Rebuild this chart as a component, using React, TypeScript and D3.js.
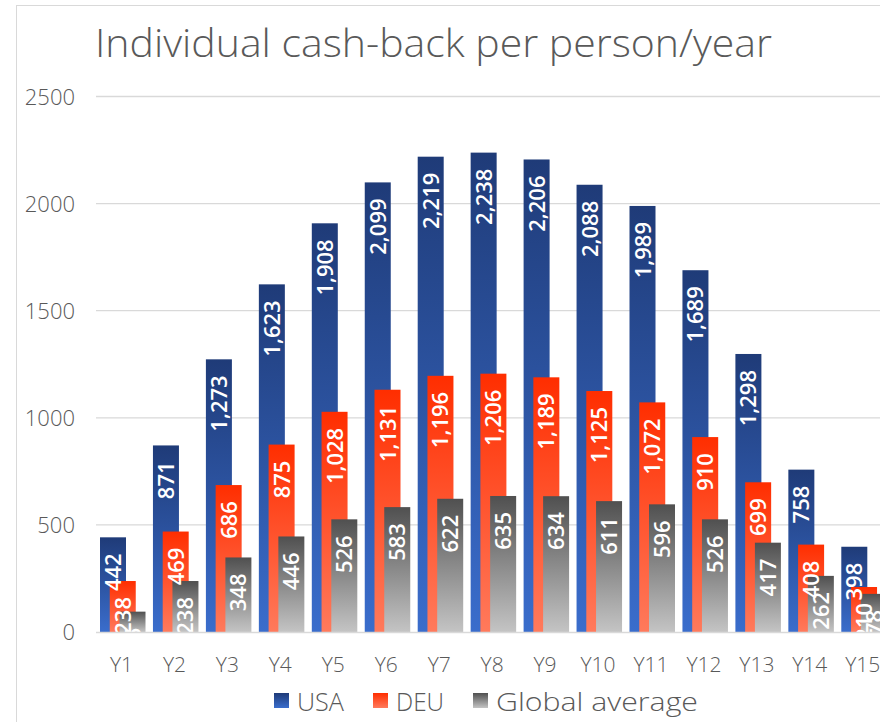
import React, { useEffect, useRef } from 'react';
import * as d3 from 'd3';

const years = ['Y1', 'Y2', 'Y3', 'Y4', 'Y5', 'Y6', 'Y7', 'Y8', 'Y9', 'Y10', 'Y11', 'Y12', 'Y13', 'Y14', 'Y15'];
const usa = [442, 871, 1273, 1623, 1908, 2099, 2219, 2238, 2206, 2088, 1989, 1689, 1298, 758, 398];
const deu = [238, 469, 686, 875, 1028, 1131, 1196, 1206, 1189, 1125, 1072, 910, 699, 408, 210];
const globalAvg = [95, 238, 348, 446, 526, 583, 622, 635, 634, 611, 596, 526, 417, 262, 178];
const seriesNames = ['USA', 'DEU', 'Global average'];
const yTicks = [0, 500, 1000, 1500, 2000, 2500];

const W = 880, H = 722;
const font = "'Open Sans', 'Lato', sans-serif";

const grads = [
  { id: 'gUsa', top: '#1f3b78', bottom: '#3a6dcc' },
  { id: 'gDeu', top: '#ff2e00', bottom: '#ff7a5c' },
  { id: 'gGlb', top: '#505050', bottom: '#c4c4c4' },
];

export default function App() {
  const ref = useRef<SVGSVGElement>(null);

  useEffect(() => {
    document.body.style.margin = '0';
    const svg = d3.select(ref.current);
    svg.selectAll('*').remove();

    const defs = svg.append('defs');
    grads.forEach(g => {
      const lg = defs.append('linearGradient').attr('id', g.id)
        .attr('x1', 0).attr('y1', 0).attr('x2', 0).attr('y2', 1);
      lg.append('stop').attr('offset', '0%').attr('stop-color', g.top);
      lg.append('stop').attr('offset', '100%').attr('stop-color', g.bottom);
    });

    // chart frame
    svg.append('rect').attr('x', 16.5).attr('y', 5.5).attr('width', 900).attr('height', 760)
      .attr('fill', '#fff').attr('stroke', '#d9d9d9');

    const x = d3.scaleBand().domain(years).range([96, 96 + 15 * 52.95]).padding(0);
    const y = d3.scaleLinear().domain([0, 2500]).range([632, 96.5]);
    const inner = d3.scalePoint().domain(seriesNames).range([4, 23.5]);
    const barW = 26;

    svg.append('text').attr('x', 95).attr('y', 57)
      .attr('font-family', font).attr('font-size', 39).attr('font-weight', 300).attr('fill', '#595959')
      .attr('textLength', 677).attr('lengthAdjust', 'spacingAndGlyphs')
      .text('Individual cash-back per person/year');

    // gridlines
    svg.append('g').selectAll('line').data(yTicks.filter(t => t > 0)).join('line')
      .attr('x1', 96).attr('x2', W).attr('y1', d => y(d)).attr('y2', d => y(d))
      .attr('stroke', '#d9d9d9').attr('stroke-width', 1.3);

    svg.append('g').selectAll('text').data(yTicks).join('text')
      .attr('x', 75).attr('y', d => y(d) + 8).attr('text-anchor', 'end')
      .attr('font-family', font).attr('font-size', 22).attr('font-weight', 300).attr('fill', '#595959')
      .text(d => d);

    const data = [usa, deu, globalAvg];
    const fmt = d3.format(',');

    data.forEach((vals, si) => {
      svg.append('g').selectAll('rect').data(vals).join('rect')
        .attr('x', (d, i) => x(years[i])! + inner(seriesNames[si])!)
        .attr('width', barW)
        .attr('y', d => y(d))
        .attr('height', d => y(0) - y(d))
        .attr('fill', `url(#${grads[si].id})`);
    });

    data.forEach((vals, si) => {
      svg.append('g').selectAll('text').data(vals).join('text')
        .attr('transform', (d, i) => {
          const cx = x(years[i])! + inner(seriesNames[si])! + barW / 2 + 8;
          return `translate(${cx},${y(d) + 16}) rotate(-90)`;
        })
        .attr('text-anchor', 'end')
        .attr('font-family', font).attr('font-size', 22).attr('font-weight', 600)
        .attr('fill', '#fff')
        .text(d => fmt(d));
    });

    // x axis
    svg.append('line').attr('x1', 96).attr('x2', W).attr('y1', 632.5).attr('y2', 632.5)
      .attr('stroke', '#d9d9d9').attr('stroke-width', 1.5);

    svg.append('g').selectAll('text').data(years).join('text')
      .attr('x', d => x(d)! + x.bandwidth() / 2 - 1).attr('y', 672)
      .attr('text-anchor', 'middle')
      .attr('font-family', font).attr('font-size', 21).attr('font-weight', 300).attr('fill', '#595959')
      .text(d => d);

    // legend
    const legX = [274, 373, 473];
    const legLen = [47, 48, 202];
    const leg = svg.append('g');
    seriesNames.forEach((name, i) => {
      leg.append('rect').attr('x', legX[i]).attr('y', 693).attr('width', 15).attr('height', 15)
        .attr('fill', `url(#${grads[i].id})`);
      leg.append('text').attr('x', legX[i] + 23).attr('y', 711)
        .attr('font-family', font).attr('font-size', 26).attr('font-weight', 300).attr('fill', '#595959')
        .attr('textLength', legLen[i]).attr('lengthAdjust', 'spacingAndGlyphs')
        .text(name);
    });
  }, []);

  return <svg ref={ref} width={W} height={H} style={{ display: 'block' }} />;
}
